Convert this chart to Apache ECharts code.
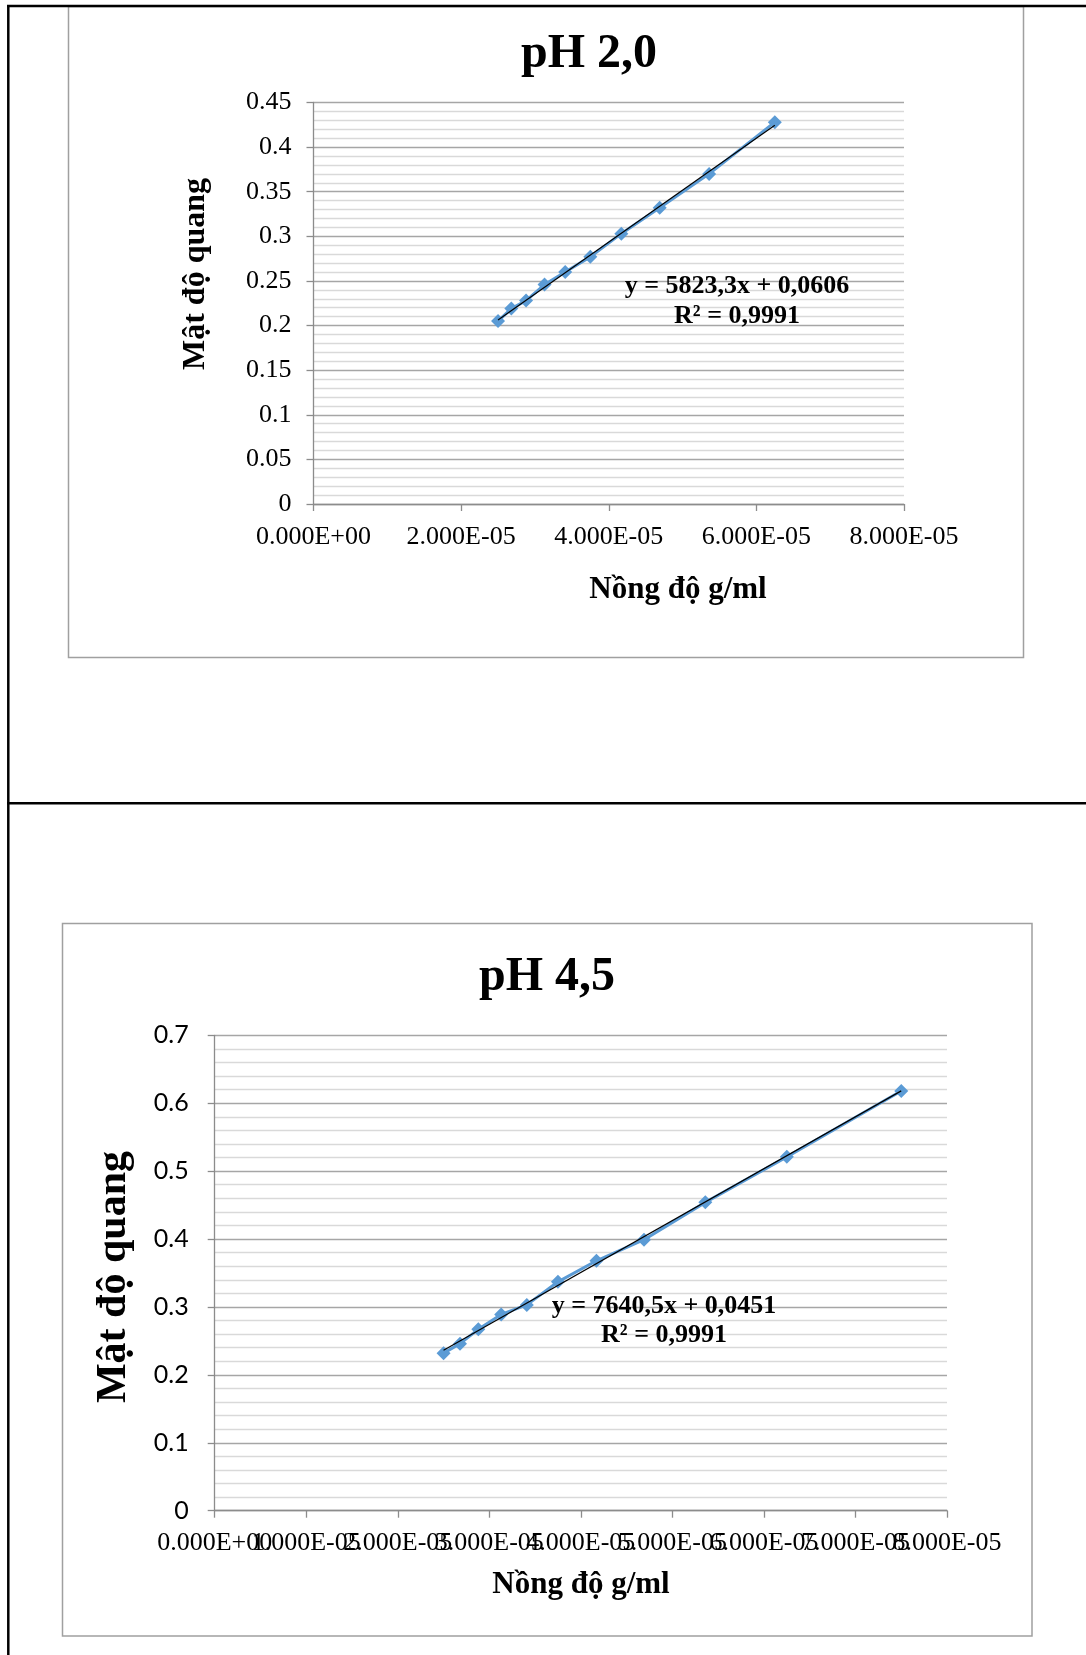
<!DOCTYPE html>
<html>
<head>
<meta charset="utf-8">
<script src="https://cdn.jsdelivr.net/npm/echarts@6/dist/echarts.min.js"></script>
<style>
html,body{margin:0;padding:0;background:#fff;}
#main{width:1086px;height:1655px;}
</style>
</head>
<body>
<div id="main"></div>
<script>
// ---- Chart 1 (pH 2,0) ----
const title1 = 'pH 2,0';
const conc1 = [2.50e-5, 2.68e-5, 2.88e-5, 3.13e-5, 3.41e-5, 3.75e-5, 4.17e-5, 4.69e-5, 5.36e-5, 6.25e-5];
const abs1  = [0.205, 0.219, 0.228, 0.246, 0.260, 0.277, 0.303, 0.332, 0.370, 0.428];
const slope1 = 5823.3, intercept1 = 0.0606;
const eq1 = ['y = 5823,3x + 0,0606', 'R² = 0,9991'];
const xTicks1 = ['0.000E+00', '2.000E-05', '4.000E-05', '6.000E-05', '8.000E-05'];

// ---- Chart 2 (pH 4,5) ----
const title2 = 'pH 4,5';
const conc2 = [2.50e-5, 2.68e-5, 2.88e-5, 3.13e-5, 3.41e-5, 3.75e-5, 4.17e-5, 4.69e-5, 5.36e-5, 6.25e-5, 7.50e-5];
const abs2  = [0.232, 0.246, 0.267, 0.289, 0.303, 0.337, 0.368, 0.399, 0.454, 0.521, 0.618];
const slope2 = 7640.5, intercept2 = 0.0451;
const eq2 = ['y = 7640,5x + 0,0451', 'R² = 0,9991'];
const xTicks2 = ['0.000E+00', '1.000E-05', '2.000E-05', '3.000E-05', '4.000E-05', '5.000E-05', '6.000E-05', '7.000E-05', '8.000E-05'];

const xName = 'Nồng độ g/ml';
const yName = 'Mật độ quang';

const SERIF = '"Liberation Serif", "Times New Roman", serif';
const SANS = 'Lato, "Open Sans", sans-serif';
const BLUE = '#5b9bd5';

function pairs(xs, ys){ return xs.map((x,i)=>[x, ys[i]]); }
function trend(xs, m, b){
  const lo = Math.min.apply(null, xs), hi = Math.max.apply(null, xs);
  return [[lo, m*lo + b], [hi, m*hi + b]];
}

function xAxisCfg(gi, interval, ticks, margin, showLabels){
  return {
    type: 'value', gridIndex: gi, min: 0, max: 8e-5, interval: interval,
    axisLine: {show: true, onZero: false, lineStyle: {color: '#8c8c8c', width: 1.3}},
    axisTick: {show: true, inside: false, length: 7, lineStyle: {color: '#8c8c8c', width: 1.3}},
    splitLine: {show: false},
    axisLabel: {
      show: showLabels, showMinLabel: true, showMaxLabel: true, margin: margin,
      fontFamily: SERIF, fontSize: 26, color: '#000',
      formatter: function(v){ return ticks[Math.round(v / interval)] || ''; }
    }
  };
}
function yAxisCfg(gi, max, interval, font, size, margin){
  return {
    type: 'value', gridIndex: gi, min: 0, max: max, interval: interval,
    axisLine: {show: true, onZero: false, lineStyle: {color: '#8c8c8c', width: 1.3}},
    axisTick: {show: true, inside: false, length: 7, lineStyle: {color: '#8c8c8c', width: 1.3}},
    splitLine: {show: true, lineStyle: {color: '#a6a6a6', width: 1.3}},
    minorTick: {show: false, splitNumber: 5},
    minorSplitLine: {show: true, lineStyle: {color: '#d9d9d9', width: 1.3}},
    axisLabel: {
      margin: margin, fontFamily: font, fontSize: size, color: '#000',
      formatter: function(v){ return String(Math.round(v*100)/100); }
    }
  };
}

function txt(x, y, text, size, bold, rot, font){
  return {
    type: 'text', x: x, y: y, rotation: rot || 0, z: 50,
    style: {
      text: text, fill: '#000', align: 'center', verticalAlign: 'middle',
      font: (bold ? 'bold ' : '') + size + 'px ' + (font || SERIF)
    }
  };
}

const chart = echarts.init(document.getElementById('main'), null, {renderer: 'canvas'});
chart.setOption({
  backgroundColor: '#fff',
  animation: false,
  grid: [
    {left: 313.5, top: 102.5, width: 590.5, height: 401.5},
    {left: 214.7, top: 1035.3, width: 732.3, height: 475.4}
  ],
  xAxis: [
    xAxisCfg(0, 2e-5, xTicks1, 20, true),
    xAxisCfg(1, 1e-5, xTicks2, 20, false)
  ],
  yAxis: [
    yAxisCfg(0, 0.45, 0.05, SERIF, 26, 22),
    yAxisCfg(1, 0.7, 0.1, SANS, 25, 26)
  ],
  series: [
    {type: 'line', xAxisIndex: 0, yAxisIndex: 0, data: pairs(conc1, abs1),
     symbol: 'diamond', symbolSize: 14, itemStyle: {color: BLUE},
     lineStyle: {color: BLUE, width: 3}, z: 3},
    {type: 'line', xAxisIndex: 0, yAxisIndex: 0, data: trend(conc1, slope1, intercept1),
     symbol: 'none', lineStyle: {color: '#000', width: 1.2}, z: 4},
    {type: 'line', xAxisIndex: 1, yAxisIndex: 1, data: pairs(conc2, abs2),
     symbol: 'diamond', symbolSize: 14, itemStyle: {color: BLUE},
     lineStyle: {color: BLUE, width: 3}, z: 3},
    {type: 'line', xAxisIndex: 1, yAxisIndex: 1, data: trend(conc2, slope2, intercept2),
     symbol: 'none', lineStyle: {color: '#000', width: 1.2}, z: 4}
  ]
});

// Chart 2 x tick labels overlap in the reference; draw each one at its tick via the axis scale
const tickLabels2 = xTicks2.map(function(lbl, i){
  const p = chart.convertToPixel({xAxisIndex: 1, yAxisIndex: 1}, [i * 1e-5, 0]);
  return txt(p[0], p[1] + 32, lbl, 26, false);
});

chart.setOption({
  graphic: [
    // chart frames
    {type: 'rect', z: 1, shape: {x: 68.5, y: 6.5, width: 955, height: 651},
     style: {fill: 'none', stroke: '#a0a0a0', lineWidth: 1.5}},
    {type: 'rect', z: 1, shape: {x: 62.5, y: 923.5, width: 969.5, height: 712.5},
     style: {fill: 'none', stroke: '#a0a0a0', lineWidth: 1.5}},
    // table borders
    {type: 'line', z: 60, shape: {x1: 7, y1: 6, x2: 1086, y2: 6}, style: {stroke: '#000', lineWidth: 2.5}},
    {type: 'line', z: 60, shape: {x1: 8.3, y1: 5, x2: 8.3, y2: 1655}, style: {stroke: '#000', lineWidth: 2.5}},
    {type: 'line', z: 60, shape: {x1: 7, y1: 803.3, x2: 1086, y2: 803.3}, style: {stroke: '#000', lineWidth: 2.5}},
    // titles
    txt(589, 55, title1, 48, true),
    txt(547, 978, title2, 48, true),
    // axis names
    txt(678, 590, xName, 31, true),
    txt(196, 274, yName, 32, true, Math.PI/2),
    txt(581, 1585, xName, 31, true),
    txt(114, 1277, yName, 42, true, Math.PI/2),
    // equations
    txt(737, 286, eq1[0], 26, true),
    txt(737, 316, eq1[1], 26, true),
    txt(664, 1306, eq2[0], 26, true),
    txt(664, 1335, eq2[1], 26, true)
  ].concat(tickLabels2)
});
</script>
</body>
</html>
